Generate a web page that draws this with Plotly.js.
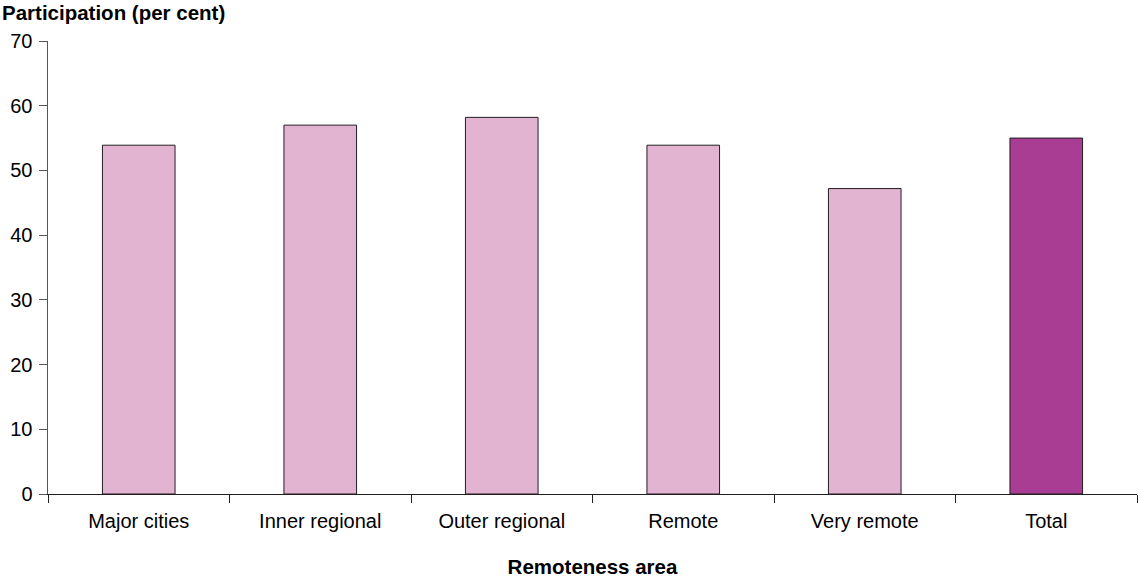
<!DOCTYPE html>
<html><head><meta charset="utf-8">
<script src="https://cdn.plot.ly/plotly-3.0.1.min.js"></script>
<style>html,body{margin:0;padding:0;background:#fff}</style>
</head><body>
<div id="chart" style="width:1140px;height:578px"></div>
<script>
const categories = ["Major cities", "Inner regional", "Outer regional", "Remote", "Very remote", "Total"];
const participation = [53.9, 57.0, 58.2, 53.9, 47.2, 55.0];
const barColors = ["#E2B4D2", "#E2B4D2", "#E2B4D2", "#E2B4D2", "#E2B4D2", "#A83D93"];

const font = "Liberation Sans, Arial, sans-serif";
Plotly.newPlot("chart", [{
  type: "bar",
  x: categories,
  y: participation,
  width: 0.4,
  marker: {color: barColors, line: {color: "#231F20", width: 1}},
  hoverinfo: "x+y"
}], {
  width: 1140, height: 578,
  margin: {l: 48, r: 3, t: 41, b: 84},
  paper_bgcolor: "#fff", plot_bgcolor: "#fff",
  font: {family: font, size: 20, color: "#000"},
  showlegend: false,
  xaxis: {
    type: "category",
    tickson: "boundaries",
    ticks: "outside", ticklen: 8, tickcolor: "#231F20", tickwidth: 1,
    showline: true, linecolor: "#231F20", linewidth: 1,
    showgrid: false, zeroline: false,
    tickfont: {family: font, size: 20},
    ticklabelstandoff: 9,
    title: {text: "<b>Remoteness area</b>", font: {family: font, size: 20.5}, standoff: 28}
  },
  yaxis: {
    range: [0, 70], dtick: 10,
    ticks: "outside", ticklen: 8, tickcolor: "#555", tickwidth: 1,
    showline: true, linecolor: "#555", linewidth: 1.5,
    showgrid: false, zeroline: false,
    tickfont: {family: font, size: 20},
    ticklabelstandoff: 2
  },
  annotations: [{
    text: "<b>Participation (per cent)</b>",
    xref: "paper", yref: "paper",
    x: -48/1089, y: 1, xanchor: "left", yanchor: "bottom", yshift: 15,
    showarrow: false, font: {family: font, size: 20.5}
  }]
}, {displayModeBar: false, staticPlot: true});
</script>
</body></html>
